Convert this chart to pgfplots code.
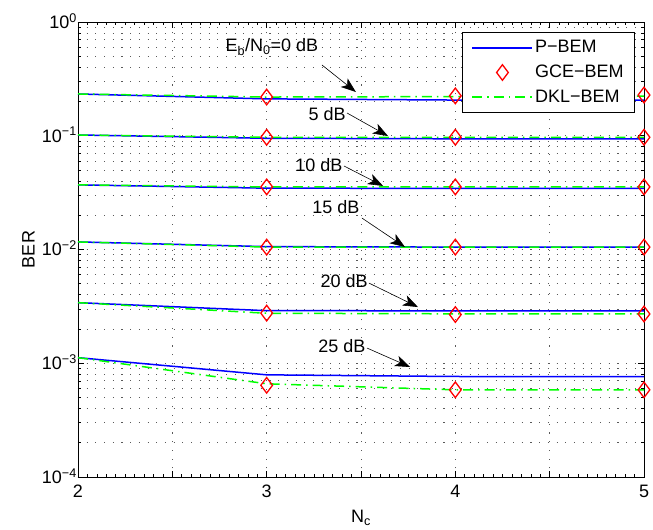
\documentclass[border=0pt]{standalone}
\usepackage{fontspec}
\setmainfont{Liberation Sans}
\usepackage{pgfplots}
\pgfplotsset{compat=1.18}
\usetikzlibrary{arrows.meta}
\definecolor{mblue}{rgb}{0,0,1}
\definecolor{mred}{rgb}{1,0,0}
\definecolor{mgreen}{rgb}{0,1,0}
\pgfplotsset{
  linelegend/.style={legend image code/.code={\draw[##1] (0bp,0bp) -- (60bp,0bp);}},
  marklegend/.style={legend image code/.code={\draw[mark repeat=2,mark phase=2,##1] plot coordinates {(0bp,0bp) (30bp,0bp) (60bp,0bp)};}},
  pb/.style={mblue, line width=1.5bp},
  gc/.style={mred, only marks, mark=diamond, mark size=7.8bp, line width=1.3bp},
  dk/.style={mgreen, line width=1.5bp, dash pattern=on 10bp off 5bp on 1.5bp off 5bp},
}
\tikzset{ann/.style={-{Stealth[length=15bp,width=11bp,inset=4bp]}, line width=0.6bp, black}}
\begin{document}
\fontsize{18bp}{21bp}\selectfont
\begin{tikzpicture}
\begin{axis}[
  scale only axis, width=566bp, height=455bp,
  xmin=2, xmax=5, ymin=1e-4, ymax=1, ymode=log,
  xtick={2,2.5,...,5}, xticklabels={2,,3,,4,,5},
  minor x tick num=9,
  ytick={1e-4,1e-3,1e-2,1e-1,1},
  yticklabels={10\textsuperscript{−4},10\textsuperscript{−3},10\textsuperscript{−2},10\textsuperscript{−1},10\textsuperscript{0}},
  xmajorgrids, ymajorgrids, yminorgrids,
  major grid style={dash pattern=on 1.1bp off 7.6bp, black!65, line width=0.8bp},
  minor grid style={dash pattern=on 1.1bp off 7.6bp, black!65, line width=0.8bp},
  axis line style={line width=0.8bp},
  every tick/.style={black, line width=0.6bp},
  major tick length=6bp, minor tick length=3bp,
  yticklabel style={inner xsep=1bp, yshift=1bp},
  xticklabel style={yshift=-2bp},
  xlabel={N\textsubscript{c}}, ylabel={BER},
  legend style={at={(rel axis cs:1,1)}, anchor=north east, xshift=-9bp, yshift=-10bp,
    draw=black, line width=0.6bp, fill=white, inner xsep=9bp, inner ysep=6bp,
    row sep=5.5bp, cells={anchor=west}},
]
% P-BEM
\addplot[pb, linelegend] coordinates {(2,0.233)(3,0.211)(4,0.206)(5,0.206)};
\addlegendentry{P−BEM}
\addplot[pb, forget plot] coordinates {(2,0.1016)(3,0.095)(4,0.094)(5,0.094)};
\addplot[pb, forget plot] coordinates {(2,0.037)(3,0.0346)(4,0.0345)(5,0.0345)};
\addplot[pb, forget plot] coordinates {(2,0.01166)(3,0.0106)(4,0.0105)(5,0.0105)};
\addplot[pb, forget plot] coordinates {(2,0.00341)(3,0.0029)(4,0.00289)(5,0.00289)};
\addplot[pb, forget plot] coordinates {(2,0.00112)(3,0.000791)(4,0.000765)(5,0.000762)};
% GCE-BEM
\addplot[gc, marklegend] coordinates {(3,0.219)(4,0.224)(5,0.228)};
\addlegendentry{GCE−BEM}
\addplot[gc, forget plot] coordinates {(3,0.097)(4,0.097)(5,0.097)};
\addplot[gc, forget plot] coordinates {(3,0.0355)(4,0.0355)(5,0.0355)};
\addplot[gc, forget plot] coordinates {(3,0.0105)(4,0.0105)(5,0.0105)};
\addplot[gc, forget plot] coordinates {(3,0.00276)(4,0.00268)(5,0.00271)};
\addplot[gc, forget plot] coordinates {(3,0.00064)(4,0.000584)(5,0.000584)};
% DKL-BEM
\addplot[dk, linelegend] coordinates {(2,0.233)(3,0.219)(4,0.221)(5,0.223)};
\addlegendentry{DKL−BEM}
\addplot[dk, forget plot] coordinates {(2,0.1016)(3,0.097)(4,0.097)(5,0.097)};
\addplot[dk, forget plot] coordinates {(2,0.037)(3,0.0355)(4,0.0355)(5,0.0355)};
\addplot[dk, forget plot] coordinates {(2,0.01166)(3,0.0105)(4,0.0105)(5,0.0105)};
\addplot[dk, forget plot] coordinates {(2,0.00341)(3,0.00275)(4,0.00272)(5,0.00272)};
\addplot[dk, forget plot] coordinates {(2,0.00112)(3,0.00066)(4,0.000584)(5,0.000584)};
% annotations
\node[anchor=base] at (axis cs:3.028,0.545) {E\textsubscript{b}/N\textsubscript{0}=0 dB};
\draw[ann] (axis cs:3.293,0.419) -- (axis cs:3.473,0.2425);
\node[anchor=base] at (axis cs:3.320,0.1375) {5 dB};
\draw[ann] (axis cs:3.426,0.1585) -- (axis cs:3.643,0.0995);
\node[anchor=base] at (axis cs:3.277,0.0483) {10 dB};
\draw[ann] (axis cs:3.41,0.0542) -- (axis cs:3.617,0.0362);
\node[anchor=base] at (axis cs:3.367,0.0208) {15 dB};
\draw[ann] (axis cs:3.505,0.0189) -- (axis cs:3.733,0.01052);
\node[anchor=base] at (axis cs:3.41,0.00461) {20 dB};
\draw[ann] (axis cs:3.542,0.00507) -- (axis cs:3.802,0.00312);
\node[anchor=base] at (axis cs:3.399,0.00124) {25 dB};
\draw[ann] (axis cs:3.532,0.00136) -- (axis cs:3.760,0.000927);
\end{axis}
\pgfresetboundingbox
\path[use as bounding box] (-78bp,-53bp) rectangle (575bp,477bp);
\end{tikzpicture}
\end{document}
